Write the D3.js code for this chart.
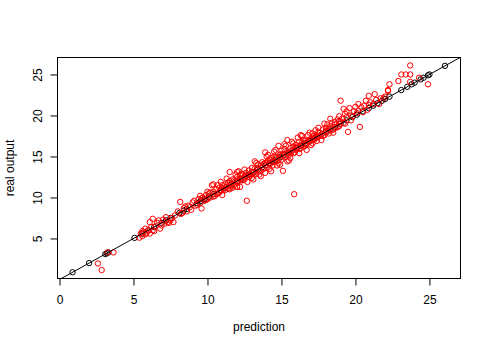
<!DOCTYPE html>
<html>
<head>
<meta charset="utf-8">
<script src="https://cdn.jsdelivr.net/npm/d3@7"></script>
<style>
  body { margin: 0; background: #fff; }
  svg { display: block; }
  .axis text { font: 12px "Liberation Sans", Arial, sans-serif; fill: #000; }
  .axis path, .axis line { stroke: #000; stroke-width: 1; }
  .label { font: 12px "Liberation Sans", Arial, sans-serif; fill: #000; }
</style>
</head>
<body>
<div id="chart"></div>
<script>
// black points: real output plotted against itself (they sit on y = x)
var realValues = [0.88, 2.0, 3.1, 3.2, 3.3, 5.07, 5.6, 6.0, 6.4, 6.9, 7.2, 7.5, 8.1, 8.4, 8.6,
    9.3, 9.5, 9.6, 9.8, 10.1, 10.4, 10.9, 11.2, 11.6, 12.0, 12.3, 12.6, 12.8, 13.1, 13.4,
    13.7, 13.9, 14.2, 14.4, 14.6, 14.9, 15.2, 15.5, 15.7, 16.0, 16.3, 16.6, 16.9, 17.2, 17.4,
    17.7, 18.0, 18.3, 18.6, 19.0, 19.4, 19.8, 20.1, 20.5, 20.9, 21.2, 21.5, 21.8, 22.0, 22.3,
    23.1, 23.5, 23.8, 24.0, 24.4, 24.6, 24.9, 25.0, 26.05];

// red points: [prediction, real output]
var predPoints = [
    [2.6,1.95],[2.85,1.15],[3.25,3.3],[3.65,3.3],
    [5.4,5.1],[5.5,5.6],[5.6,5.3],[5.7,5.8],[5.8,5.5],[5.9,5.7],[6.0,6.0],[6.1,7.0],[6.1,5.6],
    [6.3,7.4],[6.3,6.0],[6.5,6.5],[6.6,6.9],[6.8,6.2],[7.0,7.3],[7.1,6.8],[7.3,7.0],[7.5,7.2],
    [7.7,7.0],[7.8,7.8],[8.0,8.3],[8.16,9.46],[8.2,8.0],[8.4,8.7],[8.6,8.3],[8.7,9.0],[8.9,8.5],
    [9.0,9.4],[9.2,9.0],[9.4,9.8],[9.5,9.3],[9.6,8.66],[9.7,10.0],[9.8,9.6],[9.9,10.3],[10.0,9.8],
    [10.1,10.5],[10.2,10.0],[10.3,11.5],[10.4,10.7],[10.5,10.2],[10.6,11.0],[10.7,10.5],[10.8,11.2],
    [10.9,10.8],[11.0,11.5],[11.0,10.3],[11.1,11.0],[11.2,11.6],[11.3,11.3],[11.4,11.1],[11.5,12.0],
    [11.5,11.0],[11.6,11.7],[11.7,12.2],[11.8,11.5],[11.9,12.0],[12.0,11.3],[12.0,12.5],[12.1,12.0],
    [12.2,12.7],[12.3,12.1],[12.4,12.8],[12.5,12.2],[12.6,13.0],[12.66,9.6],[12.7,12.5],[12.8,13.3],
    [12.9,12.7],[13.0,13.6],[13.0,12.4],[13.1,13.0],[13.2,13.5],[13.3,12.9],[13.4,14.0],[13.5,13.3],
    [13.5,12.8],[13.6,13.9],[13.7,14.3],[13.8,13.5],[13.9,15.5],[13.9,14.2],[14.0,13.7],[14.1,14.5],
    [14.2,14.0],[14.3,13.2],[14.3,14.8],[14.4,14.3],[14.5,15.0],[14.6,14.4],[14.7,14.9],[14.8,16.3],
    [14.8,14.2],[14.9,15.2],[15.0,14.6],[15.0,15.7],[15.1,13.25],[15.1,15.2],[15.2,15.9],[15.3,15.0],
    [15.4,17.0],[15.4,15.6],[15.5,15.2],[15.6,16.0],[15.6,14.8],[15.7,15.7],[15.8,16.2],[15.86,10.4],
    [15.9,15.5],[16.0,16.4],[16.0,15.8],[16.1,16.1],[16.2,16.8],[16.3,16.0],[16.4,17.5],[16.4,16.4],
    [16.5,16.2],[16.6,16.9],[16.7,16.5],[16.8,17.6],[16.9,16.8],[17.0,17.2],[17.0,16.4],[17.1,17.8],
    [17.2,17.0],[17.3,17.4],[17.4,16.9],[17.5,18.0],[17.6,17.5],[17.7,17.7],[17.8,18.3],[17.9,17.6],
    [18.0,18.5],[18.1,18.0],[18.2,17.8],[18.3,18.7],[18.4,19.1],[18.5,18.3],[18.6,19.2],[18.7,18.5],
    [18.8,19.5],[18.9,18.7],[19.0,21.8],[19.1,19.6],[19.2,20.8],[19.3,19.0],[19.5,18.0],[19.6,20.9],
    [19.7,20.0],[19.9,20.5],[20.0,21.05],[20.2,20.6],[20.3,18.6],[20.4,21.0],[20.6,21.2],[20.8,20.7],
    [20.9,22.4],[21.0,21.6],[21.2,21.4],[21.4,21.9],[21.7,22.1],[21.9,22.1],[22.0,22.3],[22.2,23.0],
    [22.2,23.1],[22.3,23.8],[22.9,24.2],[23.1,25.0],[23.4,25.0],[23.7,25.0],[23.7,26.1],[23.7,24.1],
    [24.3,24.6],[24.9,23.8],
    [8.3,8.1],[8.5,8.9],[8.8,8.8],[9.1,9.6],[9.3,9.1],[9.6,9.9],[9.9,9.7],[10.2,10.6],[10.4,10.1],
    [10.4,11.6],[10.6,10.4],[10.8,10.6],[11.0,11.2],[11.2,10.9],[11.4,11.8],[11.5,13.1],[11.6,11.3],
    [11.8,12.1],[12.0,11.8],[12.0,13.1],[12.2,11.3],[12.2,12.3],[12.4,12.1],[12.6,12.6],[12.8,12.5],
    [13.0,13.1],[13.2,12.8],[13.4,13.6],[13.6,13.2],[13.8,14.1],[14.0,14.3],[14.2,14.6],[14.4,13.9],
    [14.6,14.9],[14.8,14.6],[15.0,15.3],[15.2,14.9],[15.4,15.3],[15.6,15.5],[15.8,15.4],[16.0,16.1],
    [16.2,15.9],[16.4,16.7],[16.6,16.3],[16.8,16.9],[17.0,17.0],[17.2,17.5],[17.4,17.3],[17.6,17.9],
    [17.8,17.5],[18.0,18.1],[18.2,18.4],[18.4,18.2],[18.6,18.9],[18.8,18.6],[19.0,19.3],[19.2,19.1],
    [19.4,19.8],[19.8,19.9],[20.1,20.3],[20.5,20.4],[20.9,21.3],[12.5,13.4],[13.3,14.2],[14.1,15.2],
    [14.5,15.6],[15.3,16.3],[15.7,16.8],[16.1,17.3],[16.5,17.0],[13.1,12.2],[13.9,13.0],[14.7,13.9],
    [15.5,14.5],[12.1,13.2],[11.9,12.8],[11.3,12.3],[10.7,11.5],[16.9,17.9],[17.3,18.2],[17.9,19.0],
    [18.3,19.6],[18.9,19.9],[19.4,20.5],[11.4,11.1],[12.0,11.3],
    [5.6,5.9],[5.8,6.2],[6.2,6.4],[6.4,5.9],[6.7,7.2],[6.9,6.6],[7.2,7.6],[7.4,6.9],[7.6,7.5],
    [9.5,10.2],[10.0,10.7],[10.9,11.9],[11.7,11.2],[12.3,12.9],[12.7,11.9],[13.2,14.4],[13.6,12.6],
    [14.0,15.0],[14.2,13.5],[14.6,15.8],[14.9,14.0],[15.2,16.5],[15.4,14.4],[15.8,16.6],[16.2,15.4],
    [16.3,17.6],[16.7,15.8],[17.1,16.6],[17.5,18.5],[17.7,17.0],[18.1,18.9],[18.5,17.9],[18.9,19.3],
    [19.3,20.2],[19.7,19.4],[20.2,21.4],[20.7,21.8],[21.3,22.6],[21.6,21.4]
];

var xTicks = [0, 5, 10, 15, 20, 25];
var yTicks = [5, 10, 15, 20, 25];

var W = 490, H = 350;
var box = { left: 57.5, right: 460.5, top: 57.5, bottom: 278.5 };

var svg = d3.select("#chart").append("svg")
    .attr("width", W)
    .attr("height", H);

// R style ranges: data range padded by 4% on each side
var xScale = d3.scaleLinear().domain([-0.135, 27.1]).range([box.left, box.right]);
var yScale = d3.scaleLinear().domain([0.12, 27.07]).range([box.bottom, box.top]);

svg.append("clipPath").attr("id", "plotclip")
    .append("rect")
    .attr("x", box.left).attr("y", box.top)
    .attr("width", box.right - box.left)
    .attr("height", box.bottom - box.top);

var plot = svg.append("g").attr("clip-path", "url(#plotclip)");

// black circles
plot.selectAll(".real")
    .data(realValues)
    .enter().append("circle")
    .attr("class", "real")
    .attr("cx", function (d) { return xScale(d); })
    .attr("cy", function (d) { return yScale(d); })
    .attr("r", 2.7)
    .style("fill", "none")
    .style("stroke", "#000")
    .style("stroke-width", 1);

// red circles
plot.selectAll(".pred")
    .data(predPoints)
    .enter().append("circle")
    .attr("class", "pred")
    .attr("cx", function (d) { return xScale(d[0]); })
    .attr("cy", function (d) { return yScale(d[1]); })
    .attr("r", 2.7)
    .style("fill", "none")
    .style("stroke", "#ff0000")
    .style("stroke-width", 1);

// abline(0, 1)
plot.append("line")
    .attr("x1", xScale(-1)).attr("y1", yScale(-1))
    .attr("x2", xScale(28)).attr("y2", yScale(28))
    .style("stroke", "#000")
    .style("stroke-width", 1);

// box
svg.append("rect")
    .attr("x", box.left).attr("y", box.top)
    .attr("width", box.right - box.left)
    .attr("height", box.bottom - box.top)
    .style("fill", "none")
    .style("stroke", "#000")
    .style("stroke-width", 1);

// x axis
var xAxis = d3.axisBottom(xScale).tickValues(xTicks).tickSize(7).tickSizeOuter(0).tickPadding(10);
var gx = svg.append("g")
    .attr("class", "axis")
    .attr("transform", "translate(0," + box.bottom + ")")
    .call(xAxis);
gx.select(".domain").remove();
gx.append("line")
    .attr("x1", xScale(xTicks[0])).attr("x2", xScale(xTicks[xTicks.length - 1]))
    .attr("y1", 0).attr("y2", 0);

// y axis, labels turned like R's las = 0
var yAxis = d3.axisLeft(yScale).tickValues(yTicks).tickSize(7).tickSizeOuter(0);
var gy = svg.append("g")
    .attr("class", "axis")
    .attr("transform", "translate(" + box.left + ",0)")
    .call(yAxis);
gy.select(".domain").remove();
gy.append("line")
    .attr("y1", yScale(yTicks[0])).attr("y2", yScale(yTicks[yTicks.length - 1]))
    .attr("x1", 0).attr("x2", 0);
gy.selectAll(".tick text")
    .attr("x", null).attr("dy", null)
    .attr("transform", "translate(-15.8,0) rotate(-90)")
    .style("text-anchor", "middle");

// axis titles
svg.append("text")
    .attr("class", "label")
    .attr("x", (box.left + box.right) / 2)
    .attr("y", 330.5)
    .style("text-anchor", "middle")
    .text("prediction");

svg.append("text")
    .attr("class", "label")
    .attr("transform", "translate(14," + (box.top + box.bottom) / 2 + ") rotate(-90)")
    .style("text-anchor", "middle")
    .text("real output");
</script>
</body>
</html>
